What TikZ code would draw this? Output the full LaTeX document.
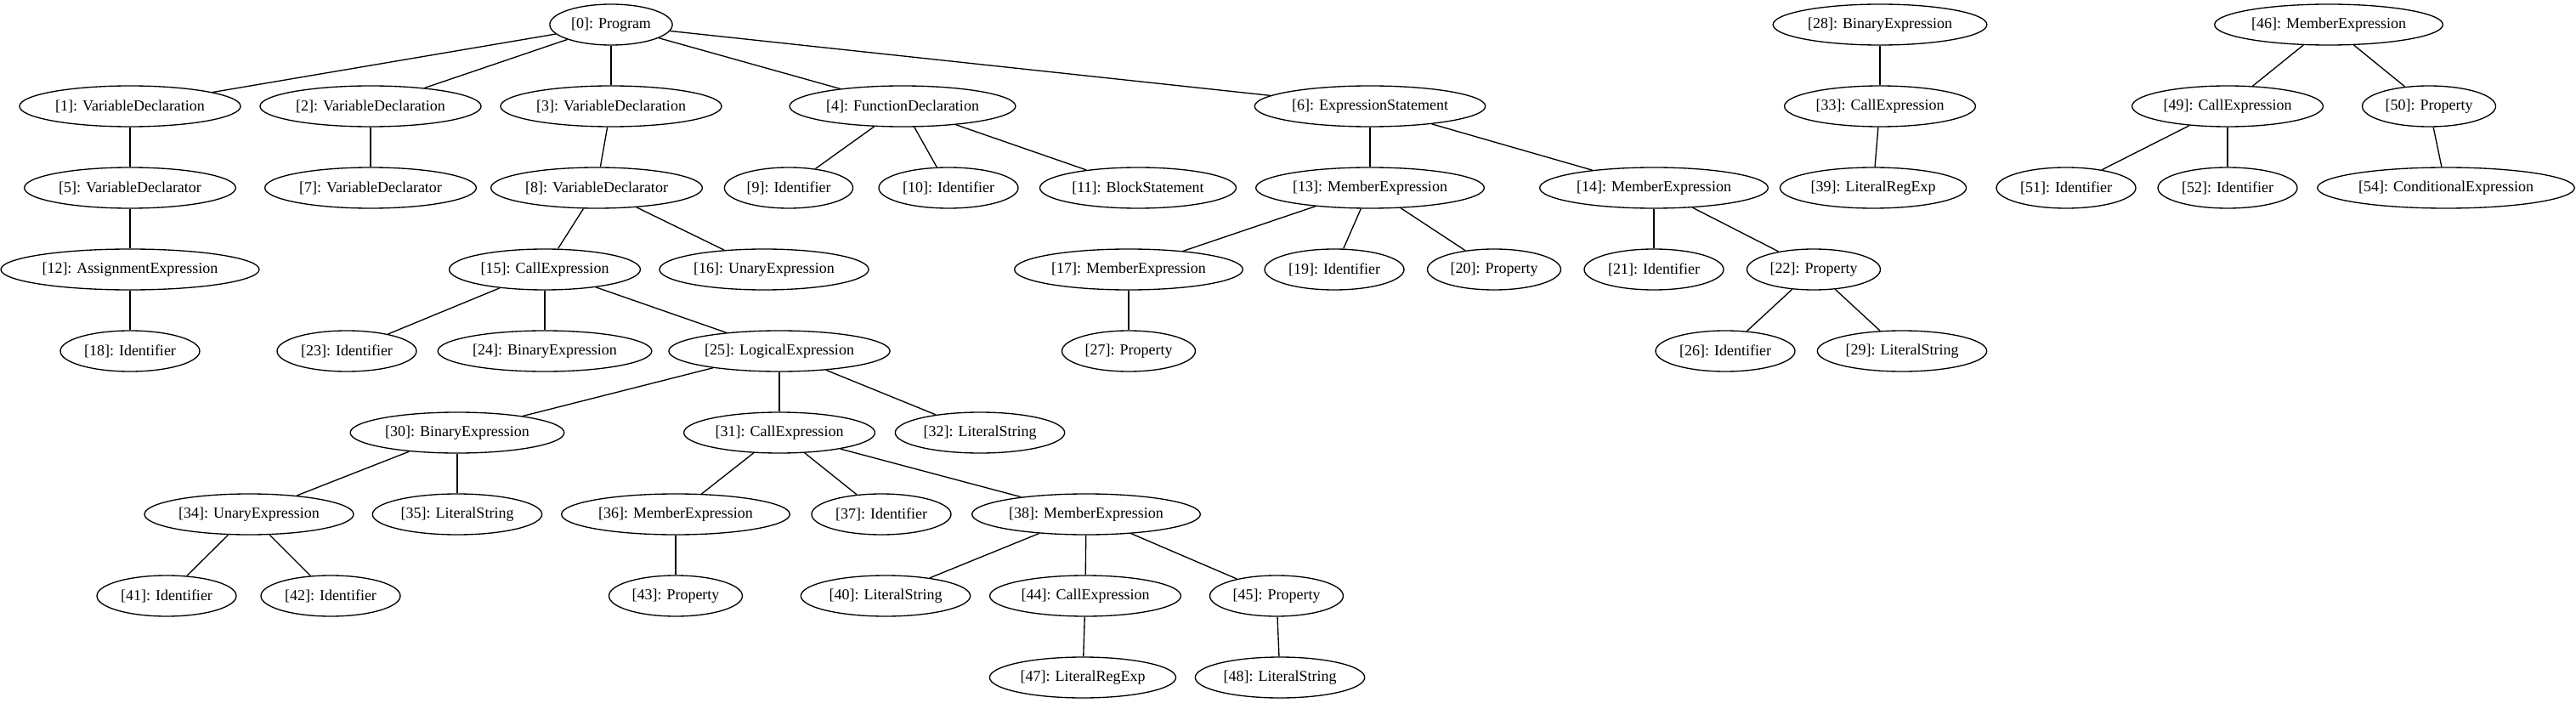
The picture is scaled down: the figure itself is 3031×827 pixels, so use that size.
\documentclass[tikz,border=0pt]{standalone}
\usepackage{fontspec}
\setmainfont{Liberation Serif}
\usetikzlibrary{shapes.geometric}

\begin{document}
\begin{tikzpicture}[
				x=0.75pt, y=-0.75pt, line width=1pt,
				ast/.style={ellipse, draw, line width=1pt, minimum height=36pt,
					minimum width=54pt, inner xsep=3pt, inner ysep=0pt,
					font=\fontsize{13.5pt}{16pt}\selectfont}
				]
				\useasboundingbox (0,0) rectangle (3031,827);
				% rank 0
				\node[ast] (0) at (719,29) {[0]: Program};
				\node[ast] (28) at (2212,29) {[28]: BinaryExpression};
				\node[ast] (46) at (2740,29) {[46]: MemberExpression};
				% rank 1
				\node[ast] (1) at (153,125) {[1]: VariableDeclaration};
				\node[ast] (2) at (436,125) {[2]: VariableDeclaration};
				\node[ast] (3) at (719,125) {[3]: VariableDeclaration};
				\node[ast] (4) at (1062,125) {[4]: FunctionDeclaration};
				\node[ast] (6) at (1612,125) {[6]: ExpressionStatement};
				\node[ast] (33) at (2212,125) {[33]: CallExpression};
				\node[ast] (49) at (2621,125) {[49]: CallExpression};
				\node[ast] (50) at (2858,125) {[50]: Property};
				% rank 2
				\node[ast] (5) at (153,221) {[5]: VariableDeclarator};
				\node[ast] (7) at (436,221) {[7]: VariableDeclarator};
				\node[ast] (8) at (702,221) {[8]: VariableDeclarator};
				\node[ast] (9) at (928,221) {[9]: Identifier};
				\node[ast] (10) at (1116,221) {[10]: Identifier};
				\node[ast] (11) at (1339,221) {[11]: BlockStatement};
				\node[ast] (13) at (1612,221) {[13]: MemberExpression};
				\node[ast] (14) at (1946,221) {[14]: MemberExpression};
				\node[ast] (39) at (2204,221) {[39]: LiteralRegExp};
				\node[ast] (51) at (2431,221) {[51]: Identifier};
				\node[ast] (52) at (2621,221) {[52]: Identifier};
				\node[ast] (54) at (2878,221) {[54]: ConditionalExpression};
				% rank 3
				\node[ast] (12) at (153,317) {[12]: AssignmentExpression};
				\node[ast] (15) at (641,317) {[15]: CallExpression};
				\node[ast] (16) at (899,317) {[16]: UnaryExpression};
				\node[ast] (17) at (1328,317) {[17]: MemberExpression};
				\node[ast] (19) at (1570,317) {[19]: Identifier};
				\node[ast] (20) at (1758,317) {[20]: Property};
				\node[ast] (21) at (1946,317) {[21]: Identifier};
				\node[ast] (22) at (2134,317) {[22]: Property};
				% rank 4
				\node[ast] (18) at (153,413) {[18]: Identifier};
				\node[ast] (23) at (408,413) {[23]: Identifier};
				\node[ast] (24) at (641,413) {[24]: BinaryExpression};
				\node[ast] (25) at (917,413) {[25]: LogicalExpression};
				\node[ast] (27) at (1328,413) {[27]: Property};
				\node[ast] (26) at (2030,413) {[26]: Identifier};
				\node[ast] (29) at (2238,413) {[29]: LiteralString};
				% rank 5
				\node[ast] (30) at (538,509) {[30]: BinaryExpression};
				\node[ast] (31) at (917,509) {[31]: CallExpression};
				\node[ast] (32) at (1153,509) {[32]: LiteralString};
				% rank 6
				\node[ast] (34) at (293,605) {[34]: UnaryExpression};
				\node[ast] (35) at (538,605) {[35]: LiteralString};
				\node[ast] (36) at (795,605) {[36]: MemberExpression};
				\node[ast] (37) at (1037,605) {[37]: Identifier};
				\node[ast] (38) at (1278,605) {[38]: MemberExpression};
				% rank 7
				\node[ast] (41) at (196,701) {[41]: Identifier};
				\node[ast] (42) at (389,701) {[42]: Identifier};
				\node[ast] (43) at (795,701) {[43]: Property};
				\node[ast] (40) at (1042,701) {[40]: LiteralString};
				\node[ast] (44) at (1277,701) {[44]: CallExpression};
				\node[ast] (45) at (1502,701) {[45]: Property};
				% rank 8
				\node[ast] (47) at (1274,797) {[47]: LiteralRegExp};
				\node[ast] (48) at (1506,797) {[48]: LiteralString};
				\path
				(0) edge (1)
				(0) edge (2)
				(0) edge (3)
				(0) edge (4)
				(0) edge (6)
				(1) edge (5)
				(5) edge (12)
				(12) edge (18)
				(2) edge (7)
				(3) edge (8)
				(8) edge (15)
				(8) edge (16)
				(15) edge (23)
				(15) edge (24)
				(15) edge (25)
				(25) edge (30)
				(25) edge (31)
				(25) edge (32)
				(30) edge (34)
				(30) edge (35)
				(34) edge (41)
				(34) edge (42)
				(31) edge (36)
				(31) edge (37)
				(31) edge (38)
				(36) edge (43)
				(38) edge (40)
				(38) edge (44)
				(38) edge (45)
				(44) edge (47)
				(45) edge (48)
				(4) edge (9)
				(4) edge (10)
				(4) edge (11)
				(6) edge (13)
				(6) edge (14)
				(13) edge (17)
				(13) edge (19)
				(13) edge (20)
				(17) edge (27)
				(14) edge (21)
				(14) edge (22)
				(22) edge (26)
				(22) edge (29)
				(28) edge (33)
				(33) edge (39)
				(46) edge (49)
				(46) edge (50)
				(49) edge (51)
				(49) edge (52)
				(50) edge (54);
			\end{tikzpicture}
\end{document}
